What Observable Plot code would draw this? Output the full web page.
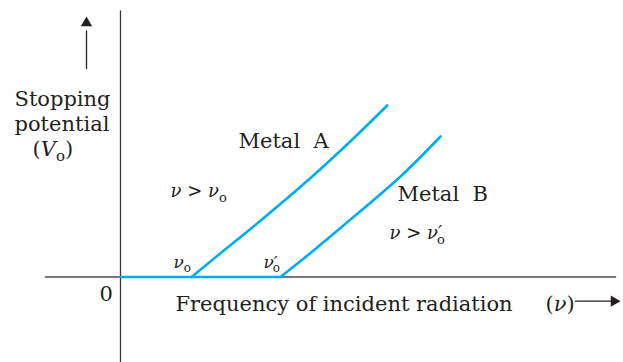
<!DOCTYPE html>
<html>
<head>
<meta charset="utf-8">
<script src="https://cdn.jsdelivr.net/npm/d3@7"></script>
<script src="https://cdn.jsdelivr.net/npm/@observablehq/plot@0.6"></script>
<style>
  html, body { margin: 0; padding: 0; background: #fff; }
</style>
</head>
<body>
<div id="chart"></div>
<script>
// Threshold frequencies (arbitrary units)
const nu0A = 7.1;
const nu0B = 16.0;

// Metal A: stopping potential vs frequency (above threshold)
const metalAFreq = [7.1, 10.0, 13.3, 19.17, 23.5, 26.67];
const metalAV    = [0.0, 2.38, 5.05, 10.05, 14.05, 17.15];

// Metal B
const metalBFreq = [16.0, 19.0, 22.17, 28.0, 32.0];
const metalBV    = [0.0, 2.4, 5.05, 10.05, 14.05];

// Zero-potential segment below threshold
const flatFreq = [0, nu0B];
const flatV    = [0, 0];

// Axis extents (data units)
const xAxisExtent = [-7.5, 49.5];
const yAxisExtent = [-8.6, 26.6];

// Annotations: labels and anchor positions (data units)
const bigLabels = ["Stopping", "potential", "(<i>V</i><sub>o</sub>)", "Metal  A", "Metal  B",
                   "Frequency of incident radiation", "(<i>ν</i>)", "0"];
const bigX = [-10.6, -10.6, -8.8, 11.8, 27.7, 5.5, 42.5, -2.1];
const bigY = [17.15, 14.65, 12.1, 12.95, 7.6, -3.35, -3.35, -2.35];

const midLabels = ["<i>ν</i> > <i>ν</i><sub>o</sub>", "<i>ν</i> > <i>ν′</i><subb>o</subb>"];
const midX = [5.0, 26.9];
const midY = [8.05, 3.85];

const smallLabels = ["<i>ν</i><sub>o</sub>", "<i>ν′</i><subb>o</subb>"];
const smallX = [5.3, 14.3];
const smallY = [0.95, 0.95];

// Arrow shafts & heads
const vArrow = {x: -3.4, y1: 20.85, y2: 24.6, head: 25.4};
const hArrow = {y: -2.42, x1: 45.5, x2: 49.0, head: 49.35};

const zip = (xs, ys) => xs.map((x, i) => ({x, y: ys[i]}));
const lab = (ls, xs, ys) => ls.map((t, i) => ({t, x: xs[i], y: ys[i]}));

const cyan = "#00aeef";
const ink = "#231f20";
const font = "DejaVu Serif";

const plot = Plot.plot({
  width: 623,
  height: 362,
  margin: 0,
  x: {domain: [-12, 50.3], axis: null},
  y: {domain: [-8.55, 27.65], axis: null},
  style: {background: "#fff"},
  marks: [
    Plot.line([{x: xAxisExtent[0], y: 0}, {x: xAxisExtent[1], y: 0}], {x: "x", y: "y", stroke: "#4d4d4f", strokeWidth: 1.6}),
    Plot.line([{x: 0, y: yAxisExtent[0]}, {x: 0, y: yAxisExtent[1]}], {x: "x", y: "y", stroke: "#3a3a3a", strokeWidth: 1.3}),
    Plot.line(zip(flatFreq, flatV), {x: "x", y: "y", stroke: cyan, strokeWidth: 2.6}),
    Plot.line(zip(metalAFreq, metalAV), {x: "x", y: "y", stroke: cyan, strokeWidth: 2.6, curve: "catmull-rom"}),
    Plot.line(zip(metalBFreq, metalBV), {x: "x", y: "y", stroke: cyan, strokeWidth: 2.6, curve: "catmull-rom"}),
    // vertical arrow
    Plot.line([{x: vArrow.x, y: vArrow.y1}, {x: vArrow.x, y: vArrow.y2}], {x: "x", y: "y", stroke: ink, strokeWidth: 1.3}),
    Plot.dot([{x: vArrow.x, y: vArrow.head}], {x: "x", y: "y", symbol: "triangle", r: 4.2, fill: ink, stroke: "none"}),
    // horizontal arrow
    Plot.line([{x: hArrow.x1, y: hArrow.y}, {x: hArrow.x2, y: hArrow.y}], {x: "x", y: "y", stroke: ink, strokeWidth: 1.3}),
    Plot.dot([{x: hArrow.head, y: hArrow.y}], {x: "x", y: "y", symbol: "triangle", r: 4.2, rotate: 90, fill: ink, stroke: "none"}),
    Plot.text(lab(bigLabels, bigX, bigY), {x: "x", y: "y", text: "t", textAnchor: "start", lineAnchor: "bottom", fontSize: 21, fontFamily: font, fill: ink}),
    Plot.text(lab(midLabels, midX, midY), {x: "x", y: "y", text: "t", textAnchor: "start", lineAnchor: "bottom", fontSize: 18, fontFamily: font, fill: ink}),
    Plot.text(lab(smallLabels, smallX, smallY), {x: "x", y: "y", text: "t", textAnchor: "start", lineAnchor: "bottom", fontSize: 17, fontFamily: font, fill: ink})
  ]
});

// Rich text: italic and subscript segments
const NS = "http://www.w3.org/2000/svg";
plot.querySelectorAll("text").forEach(el => {
  const s = el.textContent;
  if (!/[<]/.test(s)) return;
  el.textContent = "";
  const re = /<(i|sub|subb)>(.*?)<\/\1>|([^<]+)/g;
  let m, shift = 0;
  const base = parseFloat(el.closest("[font-size]")?.getAttribute("font-size")) || 18;
  while ((m = re.exec(s)) !== null) {
    const ts = document.createElementNS(NS, "tspan");
    const kind = m[1] || "plain";
    const txt = m[1] ? m[2] : m[3];
    const want = (kind === "sub" || kind === "subb") ? Math.round(base * 0.25) : 0;
    if (want !== shift) { ts.setAttribute("dy", want - shift); shift = want; }
    if (kind === "i") ts.setAttribute("font-style", "italic");
    if (kind === "sub" || kind === "subb") ts.setAttribute("font-size", Math.round(base * 0.72));
    if (kind === "subb") ts.setAttribute("dx", -Math.round(base * 0.3));
    ts.textContent = txt;
    el.appendChild(ts);
  }
});

document.getElementById("chart").appendChild(plot);
</script>
</body>
</html>
